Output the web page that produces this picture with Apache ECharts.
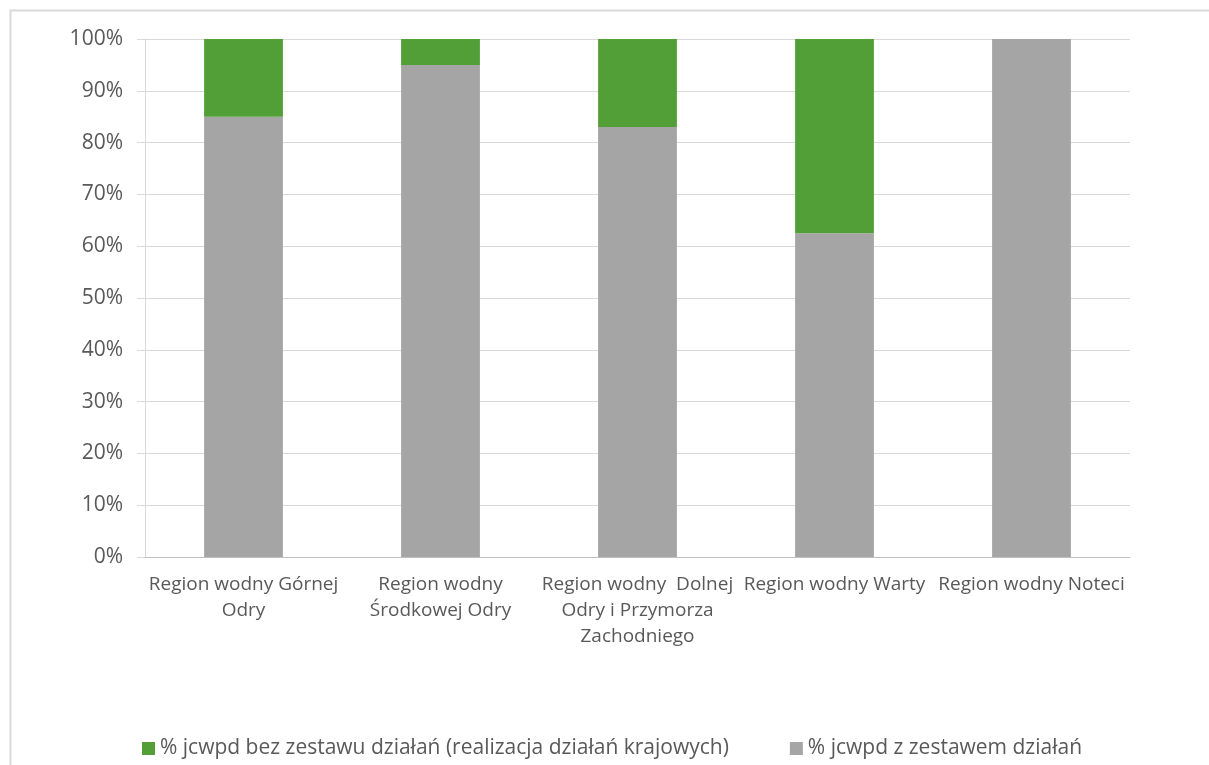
<!DOCTYPE html>
<html><head><meta charset="utf-8">
<script src="https://cdn.jsdelivr.net/npm/echarts@6/dist/echarts.min.js"></script>
<style>html,body{margin:0;padding:0;background:#fff}#c{width:1209px;height:765px}</style>
</head><body><div id="c"></div>
<script>
const categories = ["Region wodny Górnej\nOdry", "Region wodny\nŚrodkowej Odry", "Region wodny  Dolnej\nOdry i Przymorza\nZachodniego", "Region wodny Warty", "Region wodny Noteci"];
const seriesNames = ["% jcwpd bez zestawu działań (realizacja działań krajowych)", "% jcwpd z zestawem działań"];
const withActions = [85, 95, 83, 62.5, 100];
const withoutActions = [15, 5, 17, 37.5, 0];
const yTicks = [0, 10, 20, 30, 40, 50, 60, 70, 80, 90, 100];

const chart = echarts.init(document.getElementById('c'), null, {renderer: 'canvas'});
const font = "'Open Sans', sans-serif";
chart.setOption({
  animation: false,
  textStyle: {fontFamily: font},
  graphic: [{type: 'rect', shape: {x: 10.5, y: 10.5, width: 1240, height: 800}, style: {fill: 'none', stroke: '#d9d9d9', lineWidth: 2}, silent: true}],
  grid: {left: 145, right: 79, top: 39, bottom: 208, containLabel: false},
  legend: {
    top: 733, left: 137, itemWidth: 13, itemHeight: 13, itemGap: 61, icon: 'rect',
    textStyle: {fontSize: 21, color: '#595959', fontFamily: font},
    data: seriesNames
  },
  xAxis: {
    type: 'category', data: categories,
    axisLine: {lineStyle: {color: '#bfbfbf', width: 1}},
    axisTick: {show: false},
    axisLabel: {color: '#595959', fontSize: 19, lineHeight: 26, margin: 15, interval: 0, fontFamily: font}
  },
  yAxis: {
    type: 'value', min: yTicks[0], max: yTicks[yTicks.length - 1], interval: 10,
    axisLine: {show: true, lineStyle: {color: '#d9d9d9'}},
    axisTick: {show: true, length: 8, lineStyle: {color: '#d9d9d9'}},
    splitLine: {lineStyle: {color: '#d9d9d9', width: 1}},
    axisLabel: {color: '#595959', fontSize: 21, margin: 22, formatter: v => v + '%', fontFamily: font}
  },
  series: [
    {name: seriesNames[1], type: 'bar', stack: 's', data: withActions, barWidth: '40%', itemStyle: {color: '#a5a5a5'}},
    {name: seriesNames[0], type: 'bar', stack: 's', data: withoutActions, barWidth: '40%', itemStyle: {color: '#529e37'}}
  ]
});
</script></body></html>
